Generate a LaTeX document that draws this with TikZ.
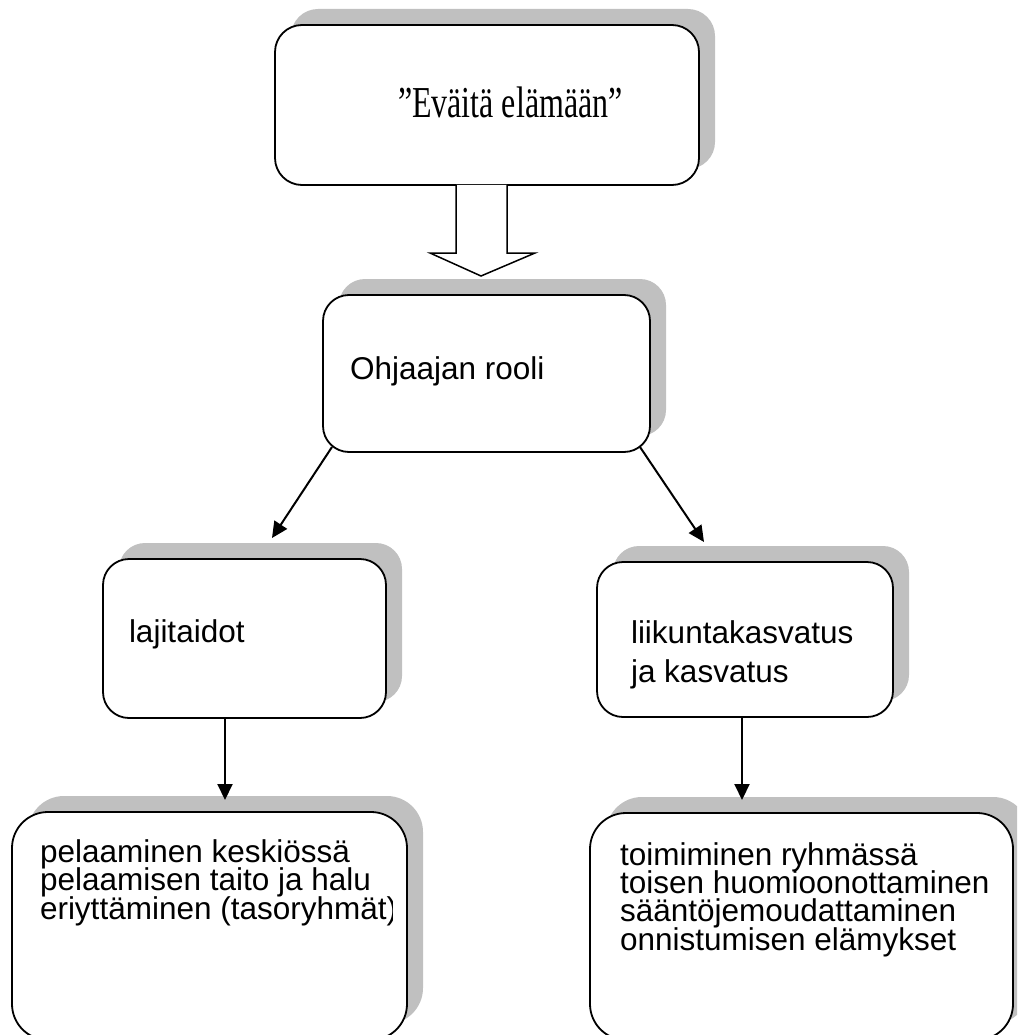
\documentclass[tikz,border=0pt]{standalone}
\usepackage{fontspec}
\usepackage{graphicx}
\setmainfont{Liberation Sans}
\newfontfamily\serifface{Liberation Serif}
\usetikzlibrary{arrows.meta,calc,shadows}
\definecolor{shadowgray}{RGB}{192,192,192}
\newcommand{\tightlines}{\lineskiplimit=-100pt\relax\lineskip=0pt\relax}
\tikzset{
  box/.style={draw, line width=1.8pt, fill=white, rounded corners=#1, anchor=north west,
    inner sep=0pt, outer sep=0pt,
    drop shadow={shadow xshift=16pt, shadow yshift=16pt, fill=shadowgray, opacity=1}},
  txt/.style={inner sep=0pt, outer sep=0pt, align=left, anchor=base west},
  conn/.style={line width=2pt, -{Triangle[length=16pt,width=15pt]}},
  blockarrow/.style={line width=1.5pt, fill=white, line join=miter},
}
\begin{document}
\begin{tikzpicture}[x=1pt,y=-1pt]
\useasboundingbox (0,0) rectangle (1017,1035);
\clip (0,0) rectangle (1017,1035);
% boxes
\node[box=27pt, minimum width=424pt, minimum height=160pt] (top) at (275,25) {};
\node[box=26pt, minimum width=327pt, minimum height=157pt] (ohj) at (323,295) {};
\node[box=26pt, minimum width=283pt, minimum height=159pt] (laj) at (103,559) {};
\node[box=26pt, minimum width=296pt, minimum height=155pt] (lii) at (597,562) {};
\node[box=36pt, minimum width=395pt, minimum height=228pt] (pel) at (12,812) {};
\node[box=36pt, minimum width=423pt, minimum height=227pt] (toi) at (590,813) {};
% texts (anchor base = baseline of the last line)
\node[txt, font=\serifface\fontsize{32}{38}\selectfont] (ttop) at (398,118) {\scalebox{1}[1.38]{”Eväitä elämään”}};
\node[txt, font=\fontsize{31.5}{38.4}\selectfont] (tohj) at (350,379) {Ohjaajan rooli};
\node[txt, font=\fontsize{31.5}{38.4}\selectfont] (tlaj) at (129,642) {lajitaidot};
\node[txt, font=\fontsize{31.5}{38.4}\selectfont] (tlii) at (631,682) {liikuntakasvatus\\ja kasvatus};
\begin{scope}
\clip (pel.north west) rectangle ($(pel.south east)+(-14.5,0)$);
\node[txt, font=\fontsize{31.5}{28.3}\selectfont\tightlines] (tpel) at (40,919) {pelaaminen keskiössä\\pelaamisen taito ja halu\\eriyttäminen (tasoryhmät)};
\end{scope}
\node[txt, font=\fontsize{31.5}{28.3}\selectfont\tightlines] (ttoi) at (620,950) {toimiminen ryhmässä\\toisen huomioonottaminen\\sääntöjemoudattaminen\\onnistumisen elämykset};
% block arrow
\draw[blockarrow] ($(top.south)+(-31,0)$) -- ($(top.south)+(-31,68)$) -- ($(top.south)+(-57,68)$)
  -- ($(top.south)+(-6,91)$) -- ($(top.south)+(48,68)$) -- ($(top.south)+(20,68)$)
  -- ($(top.south)+(20,0)$);
% connectors
\draw[conn] ($(ohj.south west)+(9,-5)$) -- ($(laj.north west)+(169,-21)$);
\draw[conn] ($(ohj.south east)+(-10,-5)$) -- ($(lii.north west)+(107,-20)$);
\draw[conn] ($(laj.south)+(-19.5,0)$) -- ($(pel.north)+(15.5,-12)$);
\draw[conn] ($(lii.south)+(-3,0)$) -- ($(toi.north)+(-59.5,-13)$);
\end{tikzpicture}
\end{document}
